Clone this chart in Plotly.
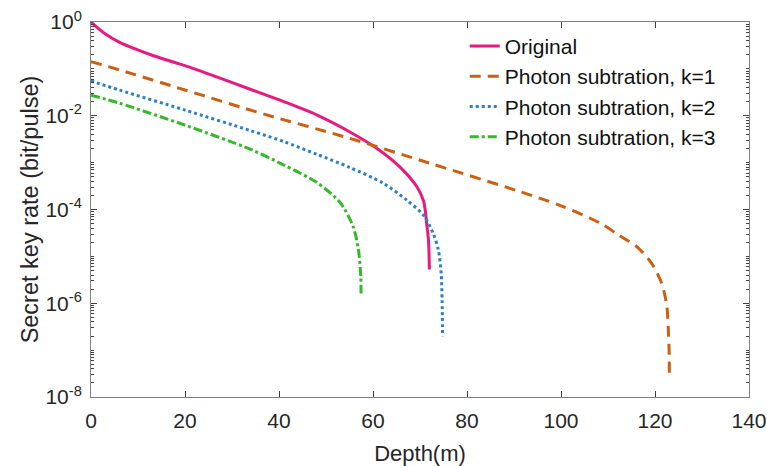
import plotly.graph_objects as go

# ---- data ----
orig_x = [0, 1, 3, 6, 9.4, 13, 18, 20, 27, 34, 41, 48, 55, 61, 65.7, 69.3, 70.7, 71.1, 71.4, 71.8, 72.0]
orig_y = [1.0, 0.813, 0.562, 0.372, 0.266, 0.195, 0.135, 0.1175, 0.0661, 0.0363, 0.0200, 0.01047,
          4.57e-3, 1.96e-3, 8.13e-4, 3.09e-4, 1.58e-4, 1.0e-4, 5.13e-5, 2.24e-5, 5.25e-6]

k1_x = [0, 6, 20, 37, 55, 72, 91.3, 100, 108.3, 112.2, 116.1, 119.3, 121.4, 122.5, 122.8, 123.0, 123.05]
k1_y = [0.143, 0.0955, 0.0355, 0.0107, 3.31e-3, 9.77e-4, 2.40e-4, 1.20e-4, 5.13e-5, 2.88e-5,
        1.62e-5, 7.08e-6, 2.69e-6, 9.12e-7, 3.16e-7, 1.0e-7, 2.95e-8]

k2_x = [0, 6, 20, 34, 41, 48, 55, 62.2, 67.2, 70.7, 72.8, 73.9, 74.5, 74.7, 74.8]
k2_y = [0.0550, 0.0355, 0.0132, 4.79e-3, 2.82e-3, 1.51e-3, 7.94e-4, 3.63e-4, 1.58e-4,
        7.59e-5, 3.09e-5, 1.38e-5, 4.37e-6, 1.17e-6, 1.95e-7]

k3_x = [0, 6, 20, 34, 41, 48, 53, 55.8, 56.9, 57.4, 57.45]
k3_y = [0.0275, 0.0186, 6.31e-3, 1.91e-3, 8.91e-4, 3.80e-4, 1.41e-4, 4.27e-5, 1.38e-5, 3.72e-6, 1.62e-6]

names = ["Original", "Photon subtration, k=1", "Photon subtration, k=2", "Photon subtration, k=3"]
colors = ["#E8197F", "#CC6010", "#2B80C4", "#35B82A"]
dashes = ["solid", "11px,7px", "dot", "dashdot"]

x_ticks = [0, 20, 40, 60, 80, 100, 120, 140]
y_tickvals = [1, 1e-2, 1e-4, 1e-6, 1e-8]
y_ticktext = ["10<sup>0</sup>", "10<sup>-2</sup>", "10<sup>-4</sup>", "10<sup>-6</sup>", "10<sup>-8</sup>"]
minor_vals = [m * 10.0 ** e for e in range(-8, 0) for m in range(1, 10) if not (m == 1 and e % 2 == 0)]

FONT = "Liberation Sans, Arial, Helvetica"

fig = go.Figure()
for xs, ys, nm, c, d in zip([orig_x, k1_x, k2_x, k3_x], [orig_y, k1_y, k2_y, k3_y], names, colors, dashes):
    fig.add_trace(go.Scatter(x=xs, y=ys, name=nm, mode="lines",
                             line=dict(color=c, width=3, dash=d, shape="spline", smoothing=0.8)))

axis_common = dict(showline=True, linecolor="#808080", linewidth=1, mirror="ticks",
                   ticks="inside", tickcolor="#404040", showgrid=False, zeroline=False,
                   automargin=False,
                   tickfont=dict(family=FONT, size=21, color="#262626"))

fig.update_xaxes(range=[0, 140], tickvals=x_ticks, ticklen=6, title_text="Depth(m)",
                 title_standoff=14, ticklabelstandoff=5,
                 title_font=dict(family=FONT, size=22, color="#262626"), **axis_common)
fig.update_yaxes(type="log", range=[-8, 0], tickvals=y_tickvals, ticktext=y_ticktext, ticklen=6,
                 title_text="Secret key rate (bit/pulse)", title_standoff=0, ticklabelstandoff=4,
                 title_font=dict(family=FONT, size=23.5, color="#262626"),
                 minor=dict(tickvals=minor_vals, ticks="inside", ticklen=3, tickcolor="#404040"),
                 **axis_common)

fig.update_layout(width=767, height=466, margin=dict(l=91, r=18, t=22, b=69),
                  plot_bgcolor="white", paper_bgcolor="white",
                  font=dict(family=FONT, size=21, color="#262626"),
                  legend=dict(x=0.568, y=0.99, xanchor="left", yanchor="top",
                              bgcolor="rgba(255,255,255,0)", borderwidth=0,
                              font=dict(family=FONT, size=21, color="#111111"),
                              tracegroupgap=0),
                  showlegend=True)

fig.write_html("out.html", config={"displayModeBar": False},
               post_script="document.body.style.margin='0';document.body.style.overflow='hidden';")
